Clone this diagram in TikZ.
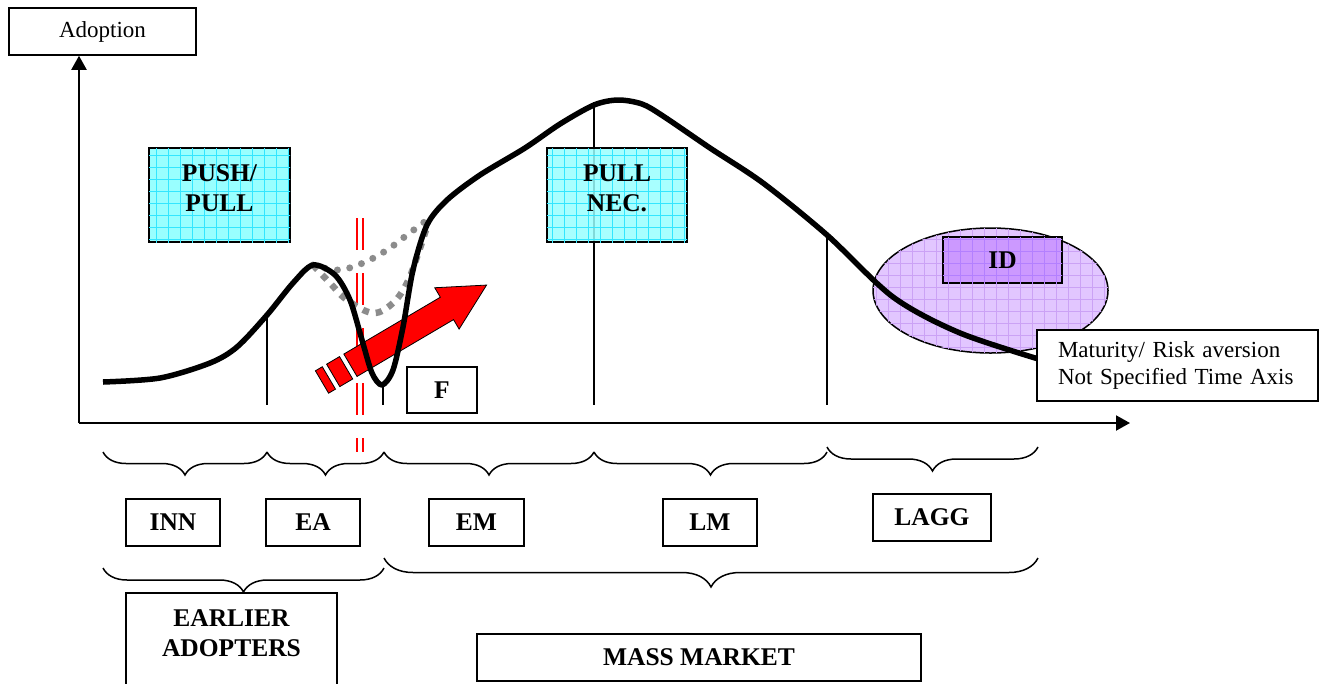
\documentclass[tikz,border=0pt]{standalone}
\usepackage{fontspec}
\setmainfont{Liberation Serif}
\usepackage{xcolor}
\usetikzlibrary{arrows.meta,decorations.pathreplacing,patterns.meta}
\definecolor{forceCyan}{HTML}{99FFFF}
\definecolor{forceCyanGrid}{HTML}{33E6FF}
\definecolor{idFill}{HTML}{CC99FF}
\definecolor{idGrid}{HTML}{B380FF}
\definecolor{zoneFill}{HTML}{E2C6FF}
\definecolor{zoneGrid}{HTML}{CBA2F5}
\definecolor{dipGrey}{HTML}{8C8C8C}
\definecolor{chasmRed}{HTML}{FF0000}
\tikzset{
  axisline/.style={line width=2pt, -{Triangle[length=14pt,width=15pt]}},
  stagebox/.style={rectangle, draw=black, line width=1.8pt, fill=white, align=center, font=\fontsize{25.5}{30}\selectfont\bfseries, inner sep=0pt},
  notebox/.style={rectangle, draw=black, line width=1.5pt, fill=white, font=\fontsize{23}{27}\selectfont, inner sep=0pt},
  forcebox/.style 2 args={rectangle, draw=black, line width=1.8pt, fill=#1, postaction={pattern={Hatch[angle=0,distance=12pt,line width=0.7pt]}, pattern color=#2}, align=center, font=\fontsize{25.5}{30}\selectfont\bfseries, inner sep=0pt},
  divider/.style={line width=1.3pt},
  adoptcurve/.style={line width=5.5pt, line join=round},
  chasmline/.style={line width=2.4pt, draw=chasmRed, dash pattern=on 32pt off 23pt},
  pusharrow/.style={fill=chasmRed, draw=black, line width=0.8pt},
  dipround/.style={line width=7pt, draw=dipGrey, line cap=round, dash pattern=on 0pt off 12.5pt},
  dipsquare/.style={line width=6.5pt, draw=dipGrey, dash pattern=on 6.5pt off 7pt},
  stagebrace/.style={decorate, decoration={brace, mirror, amplitude=#1}, line width=1.5pt},
}
\begin{document}
\begin{tikzpicture}[x=1pt,y=-1pt]
  \useasboundingbox (0,0) rectangle (1327,683);

  % ---------- axes ----------
  \node[notebox, minimum width=187pt, minimum height=47pt] (adopt) at (102.5,31.5) {Adoption};
  \coordinate (orig) at (79,423);
  \coordinate (xtip) at (1130,423);
  \draw[axisline] (orig) -- (orig |- adopt.south);
  \draw[axisline] (orig) -- (xtip);

  % ---------- stage dividers ----------
  \draw[divider] (267,315) -- (267,405);
  \draw[divider] (383,385) -- (383,405);
  \draw[divider] (594,102) -- (594,405);
  \draw[divider] (827,236) -- (827,405);

  % ---------- forces ----------
  \node[forcebox={forceCyan}{forceCyanGrid}, minimum width=141pt, minimum height=94pt, text depth=14pt] (push) at (219.5,195) {PUSH/\\PULL};
  \node[forcebox={forceCyan}{forceCyanGrid}, fill opacity=0.85, text opacity=1, minimum width=140pt, minimum height=94pt, text depth=14pt] (pullnec) at (617,195) {PULL\\NEC.};

  % ---------- chasm ----------
  \draw[chasmline] (357,218) -- (357,452);
  \draw[chasmline] (363,218) -- (363,452);

  % ---------- laggards zone ----------
  \draw[line width=1.5pt, fill=zoneFill, postaction={pattern={Hatch[angle=0,distance=12pt,line width=0.7pt]}, pattern color=zoneGrid}] (990.5,290.5) ellipse [x radius=117.5, y radius=62.5];
  \node[forcebox={idFill}{idGrid}, minimum width=119pt, minimum height=46pt] (idbox) at (1002.5,260) {ID};

  % ---------- red arrow ----------
  \begin{scope}[shift={(322,382)}, rotate=30.5]
    \filldraw[pusharrow] (0,-13) rectangle (8,13);
    \filldraw[pusharrow] (13,-13) rectangle (28,13);
    \filldraw[pusharrow] (33,-13) -- (145,-13) -- (145,-24) -- (191,0) -- (145,24) -- (145,13) -- (33,13) -- cycle;
  \end{scope}

  % ---------- dip alternatives ----------
  \draw[dipround] plot[smooth, tension=0.6] coordinates {(313,265) (338,270) (363,263) (387,250) (407,235) (427,220)};
  \draw[dipsquare] plot[smooth, tension=0.6] coordinates {(313,265) (330,283) (347,300) (373,313) (393,303) (407,283) (417,257) (427,227)};

  % ---------- adoption curve ----------
  \draw[adoptcurve] plot[smooth, tension=0.5] coordinates {
    (103,382) (160,378) (210,363) (237,347) (267,315) (293,283) (313,265)
    (335,275) (350,300) (362,340) (372,373) (382,385) (393,370) (403,327)
    (413,270) (427,225) (447,200) (480,175) (525,148) (560,124) (594,105)
    (618,100) (642,104) (663,116) (710,148) (763,183) (827,235) (893,297)
    (960,333) (1045,361)};

  \node[notebox, minimum width=281pt, minimum height=71pt, inner xsep=21pt, text width=239pt, align=left] (matur) at (1177.5,365.5) {Maturity/ Risk aversion\\Not Specified Time Axis};
  \node[stagebox, minimum width=70pt, minimum height=46pt] (fbox) at (442,390) {F};

  % ---------- stage braces ----------
  \draw[stagebrace=23pt] (103,452) -- (267,452);
  \draw[stagebrace=23pt] (267,452) -- (384,452);
  \draw[stagebrace=23pt] (384,452) -- (594,452);
  \draw[stagebrace=23pt] (594,452) -- (827,452);
  \draw[stagebrace=24pt] (827,447) -- (1038,447);

  \node[stagebox, minimum width=94pt, minimum height=47pt] (inn)  at (173,522.5) {INN};
  \node[stagebox, minimum width=94pt, minimum height=47pt] (ea)   at (313,522.5) {EA};
  \node[stagebox, minimum width=95pt, minimum height=47pt] (em)   at (476.5,522.5) {EM};
  \node[stagebox, minimum width=94pt, minimum height=47pt] (lm)   at (710,522.5) {LM};
  \node[stagebox, minimum width=118pt, minimum height=47pt] (lagg) at (932,517.5) {LAGG};

  % ---------- market braces ----------
  \draw[stagebrace=24pt] (103,568) -- (384,568);
  \draw[stagebrace=29pt] (384,558) -- (1038,558);

  \draw[line width=1.8pt] (126,593) rectangle (337,700);
  \node[font=\fontsize{25.5}{30}\selectfont\bfseries, align=center] (early) at (231.5,633) {EARLIER\\ADOPTERS};
  \node[stagebox, minimum width=444pt, minimum height=47pt] (mass) at (699,657.5) {MASS MARKET};

\end{tikzpicture}
\end{document}
